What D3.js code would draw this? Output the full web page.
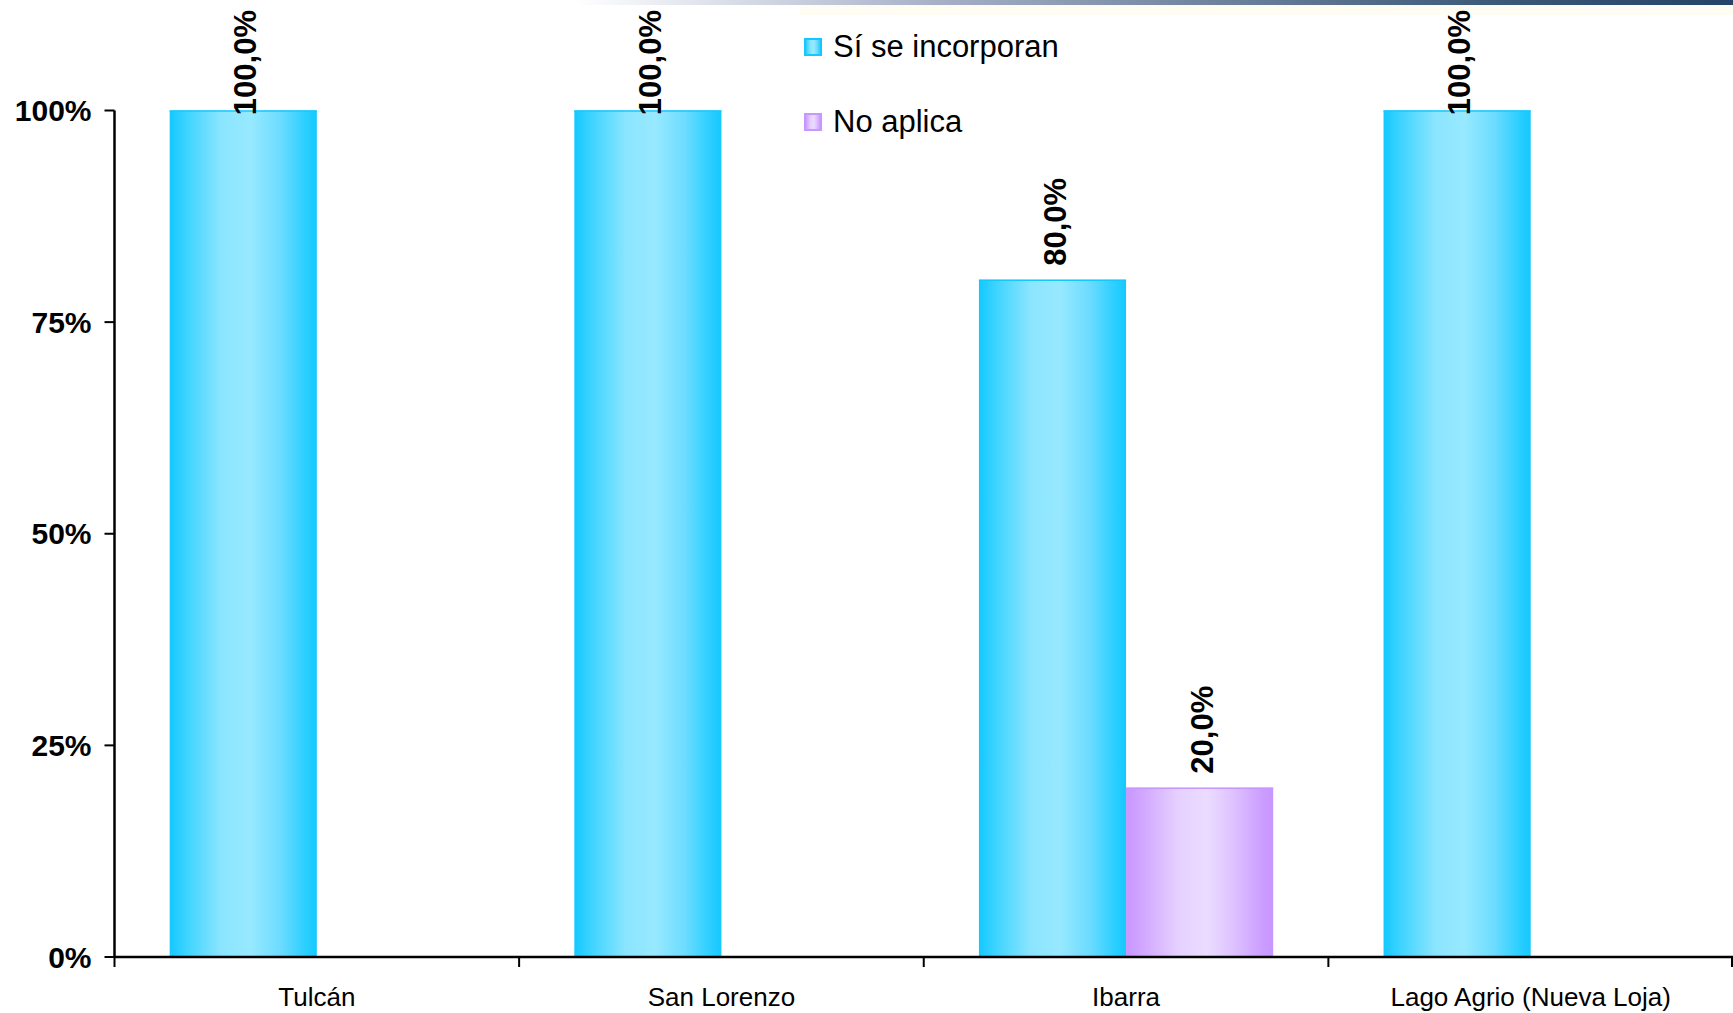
<!DOCTYPE html>
<html>
<head>
<meta charset="utf-8">
<script src="https://cdn.jsdelivr.net/npm/d3@7"></script>
<style>
  html, body { margin: 0; padding: 0; background: #ffffff; }
  svg { display: block; }
  text { font-family: "Liberation Sans", Arial, Helvetica, sans-serif; fill: #000; }
</style>
</head>
<body>
<svg id="chart" width="1733" height="1013"></svg>
<script>
// ---- data ----
const categories = ["Tulcán", "San Lorenzo", "Ibarra", "Lago Agrio (Nueva Loja)"];
const seriesNames = ["Sí se incorporan", "No aplica"];
const siSeIncorporan = [1.0, 1.0, 0.8, 1.0];
const noAplica = [0, 0, 0.2, 0];
const yTickValues = [0, 0.25, 0.5, 0.75, 1.0];
const yTickLabels = ["0%", "25%", "50%", "75%", "100%"];

(function () {
const seriesValues = [siSeIncorporan, noAplica];
const rows = categories.map((c, i) => ({
  category: c,
  values: seriesNames.map((s, k) => ({ series: s, k, value: seriesValues[k][i] }))
}));

const svg = d3.select("#chart");
const W = 1733;
const mLeft = 114.5, mRight = 1733, mTop = 110.5, mBottom = 957;

// ---- gradients ----
const defs = svg.append("defs");
const gradSpecs = [
  { id: "gCyan", stops: [[0, "#14c8ff"], [0.12, "#3fd4ff"], [0.35, "#8be5ff"], [0.55, "#97e9ff"], [0.75, "#6ddcff"], [0.92, "#2ccfff"], [1, "#14c8ff"]] },
  { id: "gPurple", stops: [[0, "#c796ff"], [0.12, "#d2a8ff"], [0.35, "#e5d0ff"], [0.55, "#ebdcff"], [0.75, "#dcbfff"], [0.92, "#cc9eff"], [1, "#c796ff"]] },
  { id: "gBanner", stops: [[0, "#ffffff"], [0.3, "#a9b3ca"], [0.55, "#6f839e"], [0.8, "#3a5877"], [1, "#244467"]] }
];
gradSpecs.forEach(g => {
  const lg = defs.append("linearGradient").attr("id", g.id)
    .attr("x1", "0%").attr("x2", "100%").attr("y1", "0%").attr("y2", "0%");
  g.stops.forEach(s => lg.append("stop").attr("offset", s[0]).attr("stop-color", s[1]));
});
const fills = ["url(#gCyan)", "url(#gPurple)"];
const edgeColors = ["#14c8ff", "#c796ff"];

// ---- top banner ----
svg.append("rect").attr("x", 575).attr("y", 0).attr("width", W - 575).attr("height", 5)
  .attr("fill", "url(#gBanner)");
svg.append("rect").attr("x", 800).attr("y", 5).attr("width", W - 800).attr("height", 10)
  .attr("fill", "#fffcee").attr("opacity", 0.7);

// ---- scales ----
const x0 = d3.scaleBand().domain(categories).range([mLeft, mRight]).paddingInner(0).paddingOuter(0);
const x1 = d3.scaleBand().domain(seriesNames).range([0, x0.bandwidth()]).paddingInner(0).paddingOuter(0.375);
const y = d3.scaleLinear().domain([0, 1]).range([mBottom, mTop]);

const locale = d3.formatLocale({ decimal: ",", thousands: ".", grouping: [3], currency: ["", ""] });
const fmt = locale.format(".1%");

// ---- bars ----
const groups = svg.append("g").selectAll("g").data(rows).join("g")
  .attr("transform", d => `translate(${x0(d.category)},0)`);

groups.selectAll("rect").data(d => d.values.filter(v => v.value > 0)).join("rect")
  .attr("x", d => x1(d.series))
  .attr("y", d => y(d.value))
  .attr("width", x1.bandwidth())
  .attr("height", d => y(0) - y(d.value))
  .attr("fill", d => fills[d.k]);

// top edge highlight
groups.selectAll("line.topedge").data(d => d.values.filter(v => v.value > 0)).join("line")
  .attr("class", "topedge")
  .attr("x1", d => x1(d.series)).attr("x2", d => x1(d.series) + x1.bandwidth())
  .attr("y1", d => y(d.value) + 0.5).attr("y2", d => y(d.value) + 0.5)
  .attr("stroke", d => edgeColors[d.k]).attr("stroke-width", 1.5);

// ---- value labels ----
groups.selectAll("text.val").data(d => d.values.filter(v => v.value > 0)).join("text")
  .attr("class", "val")
  .attr("font-size", 31).attr("font-weight", "bold")
  .attr("text-anchor", "start")
  .attr("dy", "0.36em")
  .text(d => fmt(d.value))
  .each(function (d) {
    const len = this.getComputedTextLength();
    const cx = x1(d.series) + x1.bandwidth() / 2 + 2;
    const anchorY = Math.max(y(d.value) - 14, 10 + len);
    d3.select(this).attr("transform", `translate(${cx},${anchorY}) rotate(-90)`);
  });

// ---- axes ----
const axisG = svg.append("g");
axisG.append("line").attr("x1", mLeft).attr("x2", mLeft).attr("y1", mTop).attr("y2", mBottom)
  .attr("stroke", "#000").attr("stroke-width", 2.5);
const yt = axisG.selectAll("g.yt").data(yTickValues).join("g").attr("class", "yt")
  .attr("transform", d => `translate(0,${y(d)})`);
yt.append("line").attr("x1", mLeft - 10).attr("x2", mLeft).attr("stroke", "#000").attr("stroke-width", 2);
yt.append("text").attr("x", mLeft - 23).attr("dy", "0.35em").attr("text-anchor", "end")
  .attr("font-size", 30).attr("font-weight", "bold")
  .text((d, i) => yTickLabels[i]);

axisG.append("line").attr("x1", mLeft).attr("x2", mRight).attr("y1", mBottom).attr("y2", mBottom)
  .attr("stroke", "#000").attr("stroke-width", 2.5);
const boundaries = categories.map(c => x0(c)).concat([x0(categories[categories.length - 1]) + x0.bandwidth()]);
axisG.selectAll("line.xt").data(boundaries).join("line").attr("class", "xt")
  .attr("x1", d => Math.min(d, mRight - 1)).attr("x2", d => Math.min(d, mRight - 1))
  .attr("y1", mBottom).attr("y2", mBottom + 10)
  .attr("stroke", "#000").attr("stroke-width", 2);
axisG.selectAll("text.xl").data(categories).join("text").attr("class", "xl")
  .attr("x", d => x0(d) + x0.bandwidth() / 2).attr("y", 1006)
  .attr("text-anchor", "middle").attr("font-size", 26)
  .text(d => d);

// ---- legend ----
const legend = svg.append("g").selectAll("g").data(seriesNames).join("g")
  .attr("transform", (d, i) => `translate(805,${39 + i * 75})`);
legend.append("rect").attr("width", 16).attr("height", 16)
  .attr("fill", (d, i) => fills[i]).attr("stroke", (d, i) => edgeColors[i]).attr("stroke-width", 2);
legend.append("text").attr("x", 28).attr("y", 18).attr("font-size", 31).text(d => d);
})();
</script>
</body>
</html>
